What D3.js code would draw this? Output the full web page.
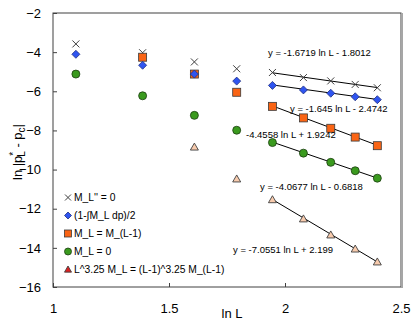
<!DOCTYPE html>
<html>
<head>
<meta charset="utf-8">
<script src="https://cdnjs.cloudflare.com/ajax/libs/d3/7.8.5/d3.min.js"></script>
<style>
  body { margin: 0; background: #fff; }
  text { font-family: "Liberation Sans", Arial, sans-serif; fill: #000; }
</style>
</head>
<body>
<div id="chart"></div>
<script>
// ln L for L = 3 .. 11
var lnL = [1.0986, 1.3863, 1.6094, 1.7918, 1.9459, 2.0794, 2.1972, 2.3026, 2.3979];

// series values, null where the series has no point
var crossVals   = [-3.58, -4.03, -4.50, -4.85, -5.04, -5.30, -5.47, -5.65, -5.82];
var diamondVals = [-4.11, -4.67, -5.12, -5.48, -5.70, -5.93, -6.10, -6.28, -6.43];
var squareVals  = [null, -4.26, -5.12, -6.05, -6.77, -7.36, -7.89, -8.34, -8.78];
var circleVals  = [-5.12, -6.23, -7.23, -7.99, -8.62, -9.16, -9.63, -10.06, -10.44];
var triVals     = [null, null, -8.85, -10.48, -11.54, -12.52, -13.34, -14.06, -14.72];

var legendLabels = ["M_L'' = 0", "(1-\u222BM_L dp)/2", "M_L = M_(L-1)", "M_L = 0",
                    "L^3.25 M_L = (L-1)^3.25 M_(L-1)"];

// trendlines: slope, intercept (fitted over L = 7..11)
var trendSlopes = [-1.6719, -1.645, -4.4558, -4.0677, -7.0551];
var trendIntercepts = [-1.8012, -2.4742, 1.9242, -0.6818, 2.199];
var trendTexts = ["y = -1.6719 ln L - 1.8012", "y = -1.645 ln L - 2.4742",
                  "-4.4558 ln L + 1.9242", "y = -4.0677 ln L - 0.6818",
                  "y = -7.0551 ln L + 2.199"];

var xTicks = [1, 1.5, 2, 2.5];
var yTicks = [-16, -14, -12, -10, -8, -6, -4, -2];

var width = 415, height = 324;
var svg = d3.select("#chart").append("svg")
    .attr("width", width).attr("height", height);

var x = d3.scaleLinear().domain([1, 2.5]).range([53, 401]);
var y = d3.scaleLinear().domain([-16, -2]).range([287, 13]);

// axes with inside ticks
svg.append("g")
    .attr("transform", "translate(0,287)")
    .call(d3.axisBottom(x).tickValues(xTicks).tickSizeInner(-4).tickSizeOuter(0)
          .tickPadding(17).tickFormat(d3.format("")))
    .call(g => g.select(".domain").remove())
    .call(g => g.selectAll("line").attr("stroke", "#404040"))
    .call(g => g.selectAll("text").style("font-size", "13px")
          .style("font-family", "Liberation Sans, Arial, sans-serif"));

svg.append("g")
    .attr("transform", "translate(53,0)")
    .call(d3.axisLeft(y).tickValues(yTicks).tickSizeInner(-4).tickSizeOuter(0)
          .tickPadding(12))
    .call(g => g.select(".domain").remove())
    .call(g => g.selectAll("line").attr("stroke", "#404040"))
    .call(g => g.selectAll("text").style("font-size", "13px")
          .style("font-family", "Liberation Sans, Arial, sans-serif"));

// plot area border
svg.append("rect")
    .attr("x", 53).attr("y", 13).attr("width", 348).attr("height", 274)
    .attr("fill", "none").attr("stroke", "#404040").attr("stroke-width", 1);
svg.append("line")
    .attr("x1", 402).attr("x2", 402).attr("y1", 13).attr("y2", 288)
    .attr("stroke", "#a6a6a6").attr("stroke-width", 2);

// axis titles
svg.append("text")
    .attr("x", 232).attr("y", 318)
    .attr("text-anchor", "middle").style("font-size", "13px")
    .text("ln L");

var yt = svg.append("text")
    .attr("transform", "translate(22,152) rotate(-90)")
    .attr("text-anchor", "middle").style("font-size", "13px");
yt.append("tspan").text("ln |p");
yt.append("tspan").attr("dy", -5).style("font-size", "10px").text("*");
yt.append("tspan").attr("dy", 8).attr("dx", -5).style("font-size", "10px").text("L");
yt.append("tspan").attr("dy", -3).text(" - p");
yt.append("tspan").attr("dy", 3).style("font-size", "10px").text("c");
yt.append("tspan").attr("dy", -3).text("|");

// trendlines over L = 7..11
var fitX = [lnL[4], lnL[8]];
svg.selectAll(".trend").data(trendSlopes).enter().append("line")
    .attr("class", "trend")
    .attr("x1", x(fitX[0])).attr("x2", x(fitX[1]))
    .attr("y1", (d, i) => y(d * fitX[0] + trendIntercepts[i]))
    .attr("y2", (d, i) => y(d * fitX[1] + trendIntercepts[i]))
    .attr("stroke", "#000").attr("stroke-width", 1);

function pts(vals) {
    return vals.map((v, i) => ({x: lnL[i], y: v})).filter(d => d.y !== null);
}

// markers
function cross(g, cx, cy, r) {
    g.append("path")
        .attr("d", "M" + (cx - r) + "," + (cy - r) + "L" + (cx + r) + "," + (cy + r) +
                   "M" + (cx - r) + "," + (cy + r) + "L" + (cx + r) + "," + (cy - r))
        .attr("stroke", "#404040").attr("stroke-width", 1).attr("fill", "none");
}
function diamond(g, cx, cy, r) {
    g.append("path")
        .attr("d", "M" + cx + "," + (cy - r) + "L" + (cx + r) + "," + cy + "L" + cx + "," +
                   (cy + r) + "L" + (cx - r) + "," + cy + "Z")
        .attr("fill", "#2f55f0").attr("stroke", "#1f2f80").attr("stroke-width", 0.8);
}
function square(g, cx, cy, r) {
    g.append("rect").attr("x", cx - r).attr("y", cy - r)
        .attr("width", 2 * r).attr("height", 2 * r)
        .attr("fill", "#fa6414").attr("stroke", "#3a3a3a").attr("stroke-width", 0.8);
}
function circle(g, cx, cy, r) {
    g.append("circle").attr("cx", cx).attr("cy", cy).attr("r", r)
        .attr("fill", "#3a9a1e").attr("stroke", "#1c3d10").attr("stroke-width", 0.8);
}
function triangle(g, cx, cy, r, fill) {
    g.append("path")
        .attr("d", "M" + cx + "," + (cy - r) + "L" + (cx + r) + "," + (cy + r * 0.75) +
                   "L" + (cx - r) + "," + (cy + r * 0.75) + "Z")
        .attr("fill", fill).attr("stroke", "#404040").attr("stroke-width", 0.9);
}

var gm = svg.append("g");
pts(crossVals).forEach(d => cross(gm, x(d.x), y(d.y), 3.5));
pts(squareVals).forEach(d => square(gm, x(d.x), y(d.y), 4));
pts(diamondVals).forEach(d => diamond(gm, x(d.x), y(d.y), 4));
pts(circleVals).forEach(d => circle(gm, x(d.x), y(d.y), 4));
pts(triVals).forEach(d => triangle(gm, x(d.x), y(d.y), 4, "#f8cbad"));

// trendline labels
var labelPos = [[268, 53], [290, 109], [246, 135], [260, 187], [233, 250]];
svg.selectAll(".tlabel").data(trendTexts).enter().append("text")
    .attr("class", "tlabel")
    .attr("x", (d, i) => labelPos[i][0]).attr("y", (d, i) => labelPos[i][1])
    .attr("dy", "0.35em").style("font-size", "9.5px")
    .text(d => d);

// legend
var legendY = [197.5, 215.5, 233.5, 251.5, 269.5];
var gl = svg.append("g");
cross(gl, 68, legendY[0], 3);
diamond(gl, 68, legendY[1], 3.5);
square(gl, 68, legendY[2], 3.5);
circle(gl, 68, legendY[3], 3.5);
triangle(gl, 68, legendY[4], 3.5, "#e02020");
gl.selectAll("text").data(legendLabels).enter().append("text")
    .attr("x", 74).attr("y", (d, i) => legendY[i])
    .attr("dy", "0.35em").style("font-size", "10.3px")
    .text(d => d);
</script>
</body>
</html>
